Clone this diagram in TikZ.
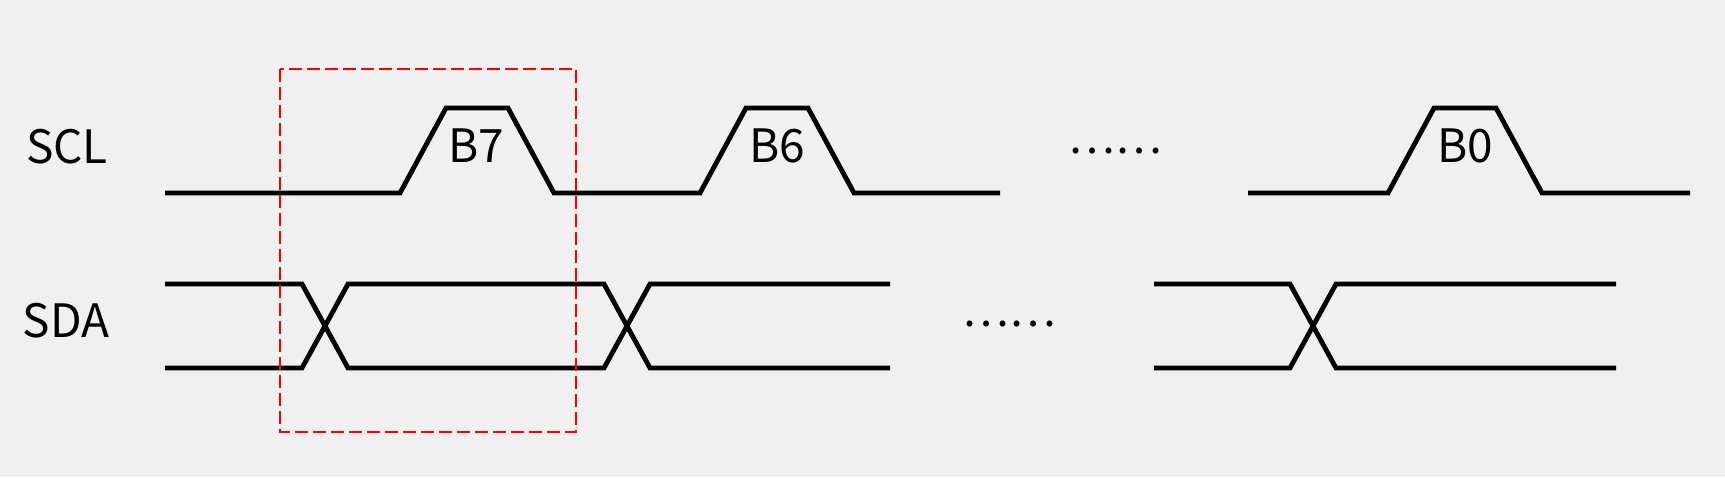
\documentclass[tikz,border=0pt]{standalone}
\usepackage{fontspec}
\newfontfamily\cjk{Noto Sans CJK SC}
\definecolor{bgc}{HTML}{F0F0F0}
\begin{document}
\begin{tikzpicture}[x=1pt,y=-1pt,
  wave/.style={line width=4.8pt, line join=miter, line cap=butt},
  lbl/.style={font=\cjk\fontsize{46}{50}\selectfont, inner sep=0pt, anchor=base},
  dots/.style={font=\cjk\fontsize{44}{50}\selectfont, inner sep=0pt, anchor=center},
  frame/.style={red, line width=1.8pt, dash pattern=on 13pt off 5pt}]
\fill[bgc] (0,0) rectangle (1725,477);
\useasboundingbox (0,0) rectangle (1725,477);
% labels
\node[lbl] (scl) at (67,163) {SCL};
\node[lbl] (sda) at (66,337) {SDA};
\node[lbl] (b7) at (476,162) {B7};
\node[lbl] (b6) at (777,162) {B6};
\node[lbl] (b0) at (1465,162) {B0};
\node[dots] (d1) at (1115,151) {……};
\node[dots] (d2) at (1009,324) {……};
% SCL
\draw[wave] (165,193) -- (400,193) -- (446,108) -- (508,108) -- (554,193) -- (700,193) -- (746,108) -- (808,108) -- (854,193) -- (1000,193);
\draw[wave] (1248,193) -- (1388,193) -- (1434,108) -- (1496,108) -- (1542,193) -- (1690,193);
% SDA
\draw[wave] (165,284) -- (302,284) -- (348,368) -- (604,368) -- (650,284) -- (890,284);
\draw[wave] (165,368) -- (302,368) -- (348,284) -- (604,284) -- (650,368) -- (890,368);
\draw[wave] (1154,284) -- (1290,284) -- (1336,368) -- (1616,368);
\draw[wave] (1154,368) -- (1290,368) -- (1336,284) -- (1616,284);
% frame
\draw[frame] (280,69) rectangle (576,432);
\end{tikzpicture}
\end{document}
